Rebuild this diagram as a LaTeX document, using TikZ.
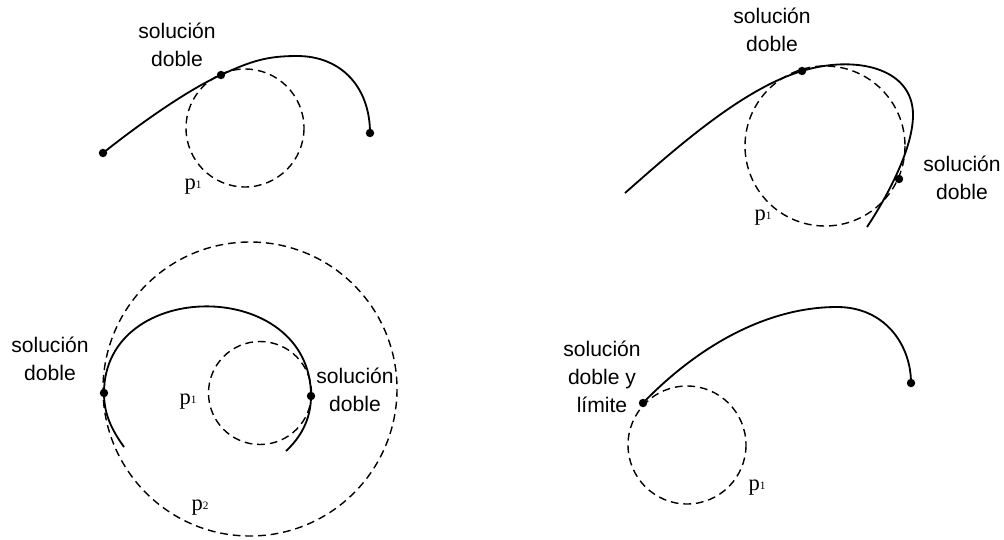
\documentclass[tikz,border=0pt]{standalone}
\usepackage{fontspec}
\setmainfont{Liberation Serif}
\setsansfont{Liberation Sans}
\usetikzlibrary{positioning}
\tikzset{
  curva/.style={line width=1.3pt},
  circulo/.style={line width=1pt,dash pattern=on 5.5pt off 3.5pt},
  punto/.style={circle,fill,inner sep=0pt,minimum size=6pt},
  etiqueta/.style={font=\sffamily\fontsize{15}{20}\selectfont,align=center,inner sep=0pt},
  nombre/.style={font=\fontsize{16}{16}\selectfont,inner sep=0pt}
}
\newcommand{\pn}[1]{p\raisebox{1.3pt}{\fontsize{8}{8}\selectfont #1}}
\begin{document}
\begin{tikzpicture}[x=0.025cm,y=-0.025cm]
\useasboundingbox (0,0) rectangle (1004,539);
% arriba izquierda: una solucion doble
\draw[circulo] (245,128) circle (59);
\node[punto] (a1) at (103,153) {};
\node[punto] (a2) at (221,75) {};
\node[punto] (a3) at (370,133) {};
\draw[curva] (a1.center) .. controls (133,129) and (185,91) .. (a2.center)
  .. controls (251,61) and (267,56) .. (297,56)
  .. controls (342,56) and (370,88) .. (a3.center);
\node[etiqueta] (ea) at (177,45) {solución\\doble};
\node[nombre] (na) at (193,187) {\pn{1}};
% arriba derecha: dos soluciones dobles
\draw[circulo] (825,146) circle (80);
\coordinate (b1) at (625,193);
\node[punto] (b2) at (802,71) {};
\node[punto] (b3) at (899,179) {};
\coordinate (b4) at (867,227);
\draw[curva] (b1) .. controls (675,149) and (742,89) .. (b2.center)
  .. controls (854,55) and (913,67) .. (913,115)
  .. controls (913,150) and (885,200) .. (b4);
\node[etiqueta] (eb1) at (772,30) {solución\\doble};
\node[etiqueta] (eb2) at (962,178) {solución\\doble};
\node[nombre] (nb) at (763,218) {\pn{1}};
% abajo izquierda: dos circulos
\draw[circulo] (250,389) circle (147);
\draw[circulo] (260,393) circle (51.5);
\coordinate (c1) at (124,447);
\node[punto] (c2) at (104,393) {};
\node[punto] (c3) at (311,396) {};
\coordinate (c4) at (286,451);
\draw[curva] (c1) .. controls (112,430) and (104,415) .. (c2.center)
  .. controls (104,277) and (311,277) .. (c3.center)
  .. controls (311,420) and (300,438) .. (c4);
\node[etiqueta] (ec1) at (50,359) {solución\\doble};
\node[etiqueta] (ec2) at (355,390) {solución\\doble};
\node[nombre] (nc1) at (188,402) {\pn{1}};
\node[nombre] (nc2) at (200,508) {\pn{2}};
% abajo derecha: solucion doble y limite
\draw[circulo] (687,445) circle (59);
\node[punto] (d1) at (643,403) {};
\node[punto] (d2) at (911,383) {};
\draw[curva] (d1.center) .. controls (698,346) and (767,307) .. (837,307)
  .. controls (885,307) and (911,345) .. (d2.center);
\node[etiqueta] (ed) at (602,377) {solución\\doble y\\límite};
\node[nombre] (nd) at (757,488) {\pn{1}};
\end{tikzpicture}
\end{document}
